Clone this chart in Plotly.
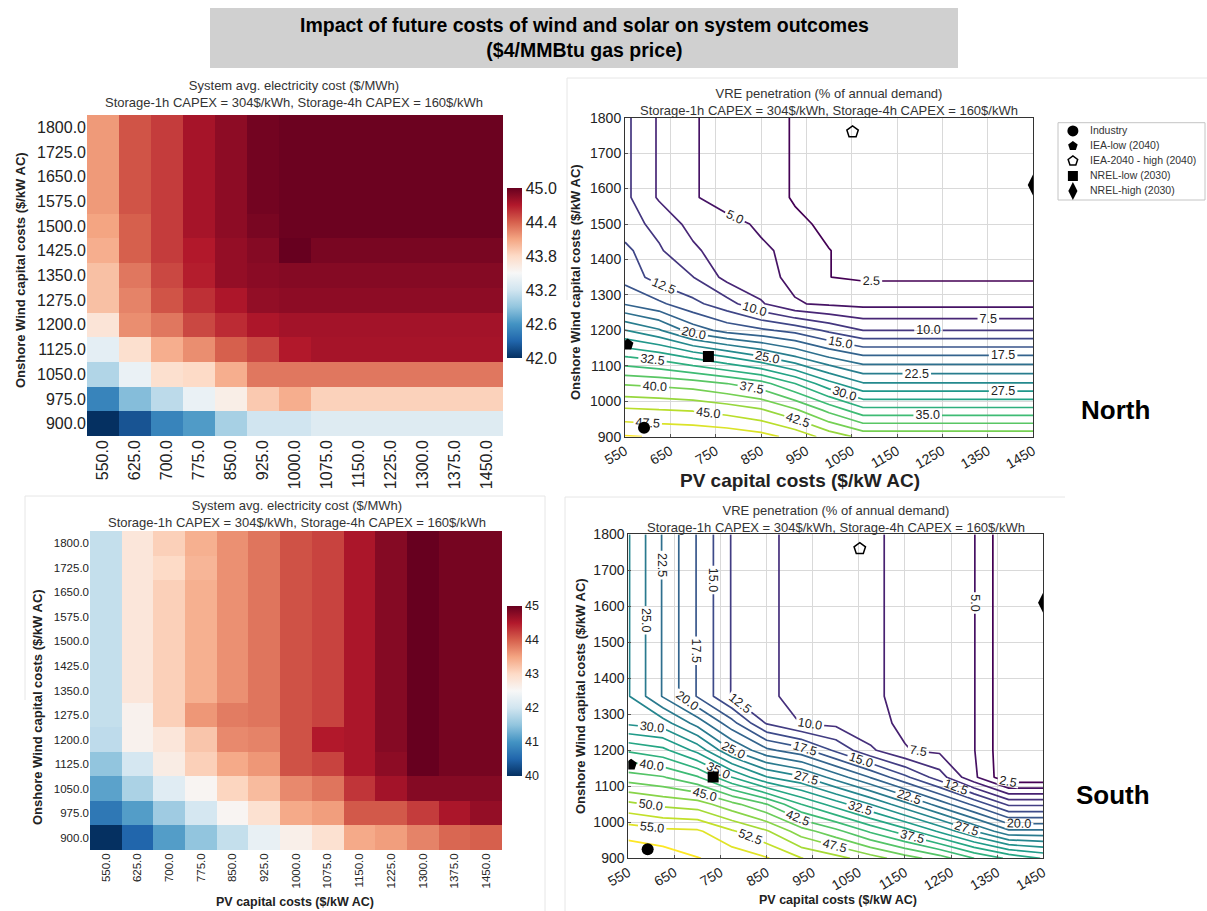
import plotly.graph_objects as go

W, H = 1207, 911
FONT = "Liberation Sans"

# ---------------- data ----------------
pv_costs = [550, 625, 700, 775, 850, 925, 1000, 1075, 1150, 1225, 1300, 1375, 1450]
wind_costs = [900, 975, 1050, 1125, 1200, 1275, 1350, 1425, 1500, 1575, 1650, 1725, 1800]
pv_tick_text = ["550.0", "625.0", "700.0", "775.0", "850.0", "925.0", "1000.0", "1075.0",
                "1150.0", "1225.0", "1300.0", "1375.0", "1450.0"]
wind_tick_text = ["900.0", "975.0", "1050.0", "1125.0", "1200.0", "1275.0", "1350.0",
                  "1425.0", "1500.0", "1575.0", "1650.0", "1725.0", "1800.0"]

# System avg. electricity cost ($/MWh), rows = wind cost 900 -> 1800, cols = PV cost 550 -> 1450
north_cost = [
    [42.0, 42.2, 42.5, 42.65, 43.0, 43.2, 43.2, 43.3, 43.3, 43.3, 43.3, 43.3, 43.3],
    [42.5, 42.85, 43.1, 43.4, 43.6, 43.9, 44.05, 43.85, 43.85, 43.85, 43.85, 43.85, 43.85],
    [43.05, 43.4, 43.75, 43.8, 44.05, 44.3, 44.3, 44.3, 44.3, 44.3, 44.3, 44.3, 44.3],
    [43.35, 43.75, 44.05, 44.2, 44.4, 44.5, 44.7, 44.75, 44.75, 44.75, 44.75, 44.75, 44.75],
    [43.7, 44.2, 44.3, 44.5, 44.62, 44.72, 44.76, 44.76, 44.76, 44.76, 44.76, 44.76, 44.76],
    [43.95, 44.25, 44.45, 44.6, 44.72, 44.83, 44.85, 44.85, 44.85, 44.85, 44.85, 44.85, 44.85],
    [43.95, 44.3, 44.5, 44.68, 44.82, 44.86, 44.88, 44.88, 44.88, 44.88, 44.88, 44.88, 44.88],
    [44.05, 44.4, 44.55, 44.7, 44.82, 44.88, 45.1, 44.93, 44.93, 44.93, 44.93, 44.93, 44.93],
    [44.1, 44.4, 44.55, 44.75, 44.85, 44.93, 44.98, 44.98, 44.98, 44.98, 44.98, 44.98, 44.98],
    [44.15, 44.45, 44.55, 44.75, 44.85, 44.95, 44.98, 44.98, 44.98, 44.98, 44.98, 44.98, 44.98],
    [44.15, 44.45, 44.55, 44.75, 44.85, 44.95, 44.98, 44.98, 44.98, 44.98, 44.98, 44.98, 44.98],
    [44.15, 44.45, 44.55, 44.75, 44.85, 44.95, 44.98, 44.98, 44.98, 44.98, 44.98, 44.98, 44.98],
    [44.15, 44.45, 44.55, 44.75, 44.85, 44.95, 44.98, 44.98, 44.98, 44.98, 44.98, 44.98, 44.98],
]

south_cost = [
    [40.0, 40.5, 41.1, 41.5, 41.9, 42.3, 42.65, 42.9, 43.45, 43.55, 43.75, 43.95, 44.0],
    [40.7, 41.1, 41.6, 42.05, 42.55, 42.9, 43.45, 43.55, 44.05, 44.05, 44.25, 44.55, 44.7],
    [41.15, 41.7, 42.2, 42.55, 43.05, 43.3, 43.7, 43.85, 44.3, 44.6, 44.8, 44.8, 44.8],
    [41.5, 42.05, 42.7, 43.1, 43.45, 43.6, 44.1, 44.2, 44.55, 44.75, 45.0, 44.9, 44.9],
    [41.85, 42.6, 42.8, 43.2, 43.7, 43.75, 44.1, 44.5, 44.55, 44.8, 45.0, 44.9, 44.9],
    [41.9, 42.6, 43.1, 43.6, 43.8, 43.85, 44.1, 44.2, 44.55, 44.8, 45.0, 44.9, 44.9],
    [41.9, 42.8, 43.1, 43.4, 43.65, 43.85, 44.1, 44.2, 44.55, 44.8, 45.0, 44.9, 44.9],
    [41.9, 42.8, 43.1, 43.4, 43.65, 43.85, 44.1, 44.2, 44.55, 44.8, 45.0, 44.9, 44.9],
    [41.9, 42.8, 43.1, 43.4, 43.65, 43.85, 44.1, 44.2, 44.55, 44.8, 45.0, 44.9, 44.9],
    [41.9, 42.8, 43.1, 43.4, 43.65, 43.85, 44.1, 44.2, 44.55, 44.8, 45.0, 44.9, 44.9],
    [41.9, 42.8, 43.1, 43.4, 43.65, 43.85, 44.1, 44.2, 44.55, 44.8, 45.0, 44.9, 44.9],
    [41.9, 42.8, 43.0, 43.35, 43.65, 43.85, 44.1, 44.2, 44.55, 44.8, 45.0, 44.9, 44.9],
    [41.9, 42.8, 43.1, 43.4, 43.65, 43.85, 44.1, 44.2, 44.55, 44.8, 45.0, 44.9, 44.9],
]

# VRE penetration (% of annual demand)
north_vre = [
    [50.2, 49.8, 49.6, 49.2, 48.4, 46.7, 44.0, 41.8, 41.8, 41.8, 41.8, 41.8, 41.8],
    [45.4, 45.1, 44.8, 44.0, 42.8, 40.4, 36.8, 33.3, 33.3, 33.3, 33.3, 33.3, 33.3],
    [39.7, 39.3, 38.7, 37.5, 36.0, 32.5, 28.3, 25.2, 25.2, 25.2, 25.2, 25.2, 25.2],
    [32.6, 31.5, 29.5, 27.5, 25.3, 22.7, 19.9, 18.0, 18.0, 18.0, 18.0, 18.0, 18.0],
    [25.1, 22.8, 18.8, 16.6, 15.5, 14.2, 12.0, 10.0, 10.0, 10.0, 10.0, 10.0, 10.0],
    [17.3, 15.5, 13.2, 11.0, 7.8, 5.2, 4.6, 4.3, 4.3, 4.3, 4.3, 4.3, 4.3],
    [14.05, 11.4, 10.05, 6.7, 5.8, 4.4, 2.52, 2.2, 2.2, 2.2, 2.2, 2.2, 2.2],
    [13.2, 10.3, 8.0, 6.0, 5.3, 4.5, 2.52, 2.2, 2.2, 2.2, 2.2, 2.2, 2.2],
    [11.0, 9.3, 6.6, 5.6, 4.7, 2.7, 2.3, 2.2, 2.2, 2.2, 2.2, 2.2, 2.2],
    [10.6, 7.2, 5.2, 4.1, 3.0, 2.4, 2.2, 2.2, 2.2, 2.2, 2.2, 2.2, 2.2],
    [10.6, 7.2, 5.2, 4.1, 3.0, 2.4, 2.2, 2.2, 2.2, 2.2, 2.2, 2.2, 2.2],
    [10.6, 7.2, 5.2, 4.1, 3.0, 2.4, 2.2, 2.2, 2.2, 2.2, 2.2, 2.2, 2.2],
    [10.6, 7.2, 5.2, 4.1, 3.0, 2.4, 2.2, 2.2, 2.2, 2.2, 2.2, 2.2, 2.2],
]

south_vre = [
    [59.5, 59.0, 57.6, 56.6, 55.2, 52.6, 50.9, 48.7, 46.2, 43.8, 40.0, 37.0, 34.8],
    [56.5, 55.6, 55.4, 52.8, 50.3, 46.2, 43.3, 39.6, 36.2, 32.1, 27.6, 23.1, 23.1],
    [50.6, 49.4, 48.7, 45.8, 42.6, 37.5, 33.8, 30.0, 25.8, 21.4, 16.9, 12.0, 12.0],
    [43.7, 42.7, 40.3, 35.0, 30.2, 27.9, 23.9, 19.9, 15.6, 11.2, 5.5, 0.3, 0.3],
    [37.1, 35.7, 31.7, 25.0, 20.6, 18.5, 14.5, 10.5, 7.6, 7.0, 5.1, 0.3, 0.2],
    [29.6, 28.7, 24.0, 18.4, 12.3, 9.9, 9.4, 8.0, 7.2, 6.5, 5.1, 0.3, 0.2],
    [27.7, 22.3, 17.3, 12.3, 10.5, 9.1, 8.2, 7.7, 7.2, 6.5, 5.1, 0.3, 0.2],
    [27.7, 22.3, 17.3, 12.3, 10.5, 9.1, 8.2, 7.7, 7.2, 6.5, 5.1, 0.3, 0.2],
    [27.7, 22.3, 17.3, 12.3, 10.5, 9.1, 8.2, 7.7, 7.2, 6.5, 5.1, 0.3, 0.2],
    [27.7, 22.3, 17.3, 12.3, 10.5, 9.1, 8.2, 7.7, 7.2, 6.5, 5.1, 0.3, 0.2],
    [27.7, 22.3, 17.3, 12.3, 10.5, 9.1, 8.2, 7.7, 7.2, 6.5, 5.1, 0.3, 0.2],
    [27.7, 22.3, 17.3, 12.3, 10.5, 9.1, 8.2, 7.7, 7.2, 6.5, 5.1, 0.3, 0.2],
    [27.7, 22.3, 17.3, 12.3, 10.5, 9.1, 8.2, 7.7, 7.2, 6.5, 5.1, 0.3, 0.2],
]

# cost scenario markers (PV cost, wind cost)
scenario_names = ["Industry", "IEA-low (2040)", "IEA-2040 - high (2040)", "NREL-low (2030)", "NREL-high (2030)"]
scenario_pv = [592, 556, 1052, 734, 1450]
scenario_wind = [925, 1160, 1760, 1126, 1610]

contour_xticks = [550, 650, 750, 850, 950, 1050, 1150, 1250, 1350, 1450]
contour_yticks = [900, 1000, 1100, 1200, 1300, 1400, 1500, 1600, 1700, 1800]

# ---------------- styling helpers ----------------
RDBU_R = [[0.0, "#053061"], [0.1, "#2166ac"], [0.2, "#4393c3"], [0.3, "#92c5de"],
          [0.4, "#d1e5f0"], [0.5, "#f7f7f7"], [0.6, "#fddbc7"], [0.7, "#f4a582"],
          [0.8, "#d6604d"], [0.9, "#b2182b"], [1.0, "#67001f"]]


def px_x(p):
    return p / W


def px_y(p):
    return 1 - p / H


fig = go.Figure()

# ---- heatmaps ----
fig.add_trace(go.Heatmap(
    x=pv_costs, y=wind_costs, z=north_cost, colorscale=RDBU_R, zmin=42, zmax=45,
    xaxis="x", yaxis="y", hoverinfo="skip",
    colorbar=dict(x=px_x(507), xanchor="left", xpad=0, y=px_y(273), yanchor="middle",
                  len=170 / H, ypad=0, thickness=15, outlinewidth=0, ticks="",
                  tickvals=[42.0, 42.6, 43.2, 43.8, 44.4, 45.0],
                  ticktext=["42.0", "42.6", "43.2", "43.8", "44.4", "45.0"],
                  tickfont=dict(size=16, family=FONT, color="#222")),
))
fig.add_trace(go.Heatmap(
    x=pv_costs, y=wind_costs, z=south_cost, colorscale=RDBU_R, zmin=40, zmax=45,
    xaxis="x3", yaxis="y3", hoverinfo="skip",
    colorbar=dict(x=px_x(507), xanchor="left", xpad=0, y=px_y(691), yanchor="middle",
                  len=170 / H, ypad=0, thickness=15, outlinewidth=0, ticks="",
                  tickvals=[40, 41, 42, 43, 44, 45],
                  tickfont=dict(size=12.5, family=FONT, color="#222")),
))

# ---- contours ----
for z, ax, ay, zmax in [(north_vre, "x2", "y2", 50), (south_vre, "x4", "y4", 57.5)]:
    fig.add_trace(go.Contour(
        x=pv_costs, y=wind_costs, z=z, xaxis=ax, yaxis=ay,
        colorscale="Viridis", zmin=2.5, zmax=zmax, showscale=False, hoverinfo="skip",
        contours=dict(start=2.5, end=zmax, size=2.5, coloring="lines", showlabels=True,
                      labelformat=".1f", labelfont=dict(size=12.5, color="#222", family=FONT)),
        line=dict(width=1.7, smoothing=0),
    ))

# ---- scenario markers ----
marker_styles = [
    dict(symbol="circle", size=12, color="black"),
    dict(symbol="pentagon", size=12, color="black"),
    dict(symbol="pentagon-open", size=12, color="black", line=dict(width=1.5, color="black")),
    dict(symbol="square", size=11, color="black"),
    dict(symbol="diamond-tall", size=15, color="black"),
]
for ax, ay in [("x2", "y2"), ("x4", "y4")]:
    for i, name in enumerate(scenario_names):
        fig.add_trace(go.Scatter(
            x=[scenario_pv[i]], y=[scenario_wind[i]], mode="markers", name=name,
            marker=marker_styles[i], xaxis=ax, yaxis=ay, showlegend=False, hoverinfo="skip",
        ))

# ---- compact legend (drawn on a hidden axis, one row per scenario) ----
legend_rows = list(range(len(scenario_names)))
legend_marker_sizes = [11, 10, 10, 10, 13]
for i, name in enumerate(scenario_names):
    st = dict(marker_styles[i])
    st["size"] = legend_marker_sizes[i]
    fig.add_trace(go.Scatter(x=[1.0], y=[legend_rows[i]], mode="markers", marker=st,
                             xaxis="x5", yaxis="y5", showlegend=False, hoverinfo="skip", cliponaxis=False))
fig.add_trace(go.Scatter(x=[2.15] * len(scenario_names), y=legend_rows, mode="text", text=scenario_names,
                         textposition="middle right", textfont=dict(size=10.5, family=FONT, color="#333"),
                         xaxis="x5", yaxis="y5", showlegend=False, hoverinfo="skip", cliponaxis=False))

# ---- axes ----
tickfont_hm1 = dict(size=16, family=FONT, color="#222")
tickfont_hm2 = dict(size=11.5, family=FONT, color="#222")
tickfont_ct = dict(size=14, family=FONT, color="#222")

heat_x_common = dict(range=[512.5, 1487.5], tickmode="array", tickvals=pv_costs, ticktext=pv_tick_text,
                     tickangle=-90, showgrid=False, zeroline=False, showline=False, ticks="",
                     automargin=False)
heat_y_common = dict(range=[862.5, 1837.5], tickmode="array", tickvals=wind_costs, ticktext=wind_tick_text,
                     showgrid=False, zeroline=False, showline=False, ticks="", automargin=False)
cont_x_common = dict(range=[550, 1450], tickmode="array", tickvals=contour_xticks, tickangle=-30,
                     showgrid=True, gridcolor="#d9d9d9", gridwidth=1, zeroline=False, showline=True,
                     linecolor="#333", linewidth=1, mirror=True, ticks="inside", ticklen=3,
                     tickcolor="#555", tickfont=tickfont_ct, automargin=False)
cont_y_common = dict(range=[900, 1800], tickmode="array", tickvals=contour_yticks,
                     showgrid=True, gridcolor="#d9d9d9", gridwidth=1, zeroline=False, showline=True,
                     linecolor="#333", linewidth=1, mirror=True, ticks="inside", ticklen=3,
                     tickcolor="#555", tickfont=tickfont_ct, automargin=False)

fig.update_layout(
    xaxis=dict(domain=[px_x(87), px_x(503)], anchor="y", tickfont=tickfont_hm1, **heat_x_common),
    yaxis=dict(domain=[px_y(436), px_y(115)], anchor="x", tickfont=tickfont_hm1, **heat_y_common),
    xaxis3=dict(domain=[px_x(90), px_x(502)], anchor="y3", tickfont=tickfont_hm2, **heat_x_common),
    yaxis3=dict(domain=[px_y(850), px_y(531)], anchor="x3", tickfont=tickfont_hm2, **heat_y_common),
    xaxis2=dict(domain=[px_x(625), px_x(1033)], anchor="y2", **cont_x_common),
    yaxis2=dict(domain=[px_y(436.7), px_y(117.7)], anchor="x2", **cont_y_common),
    xaxis4=dict(domain=[px_x(628.3), px_x(1043.3)], anchor="y4", **cont_x_common),
    yaxis4=dict(domain=[px_y(858.3), px_y(534.3)], anchor="x4", **cont_y_common),
    xaxis5=dict(domain=[px_x(1058), px_x(1207)], anchor="y5", range=[0, 10], visible=False,
                fixedrange=True, automargin=False),
    yaxis5=dict(domain=[px_y(200), px_y(122.7)], anchor="x5", range=[4.6, -0.55], visible=False,
                fixedrange=True, automargin=False),
)

# ---- layout, shapes ----
fig.update_layout(
    width=W, height=H, margin=dict(l=0, r=0, t=0, b=0, pad=0, autoexpand=False),
    paper_bgcolor="white", plot_bgcolor="white",
    font=dict(family=FONT, color="#222"),
    showlegend=False,
)

shapes = [
    dict(type="rect", xref="paper", yref="paper", x0=px_x(210), x1=px_x(958), y0=px_y(68), y1=px_y(8),
         fillcolor="#d0d0d0", line=dict(width=0), layer="below"),
    # legend box
    dict(type="rect", xref="paper", yref="paper", x0=px_x(1058), x1=px_x(1205), y0=px_y(200), y1=px_y(122.7),
         fillcolor="white", line=dict(color="#c4c4c4", width=1), layer="below"),
    # faint panel frames of the original composite image
    dict(type="line", xref="paper", yref="paper", x0=px_x(567), x1=px_x(1207), y0=px_y(78), y1=px_y(78),
         line=dict(color="#e6e6e6", width=1)),
    dict(type="line", xref="paper", yref="paper", x0=px_x(567), x1=px_x(567), y0=px_y(78), y1=px_y(300),
         line=dict(color="#e6e6e6", width=1)),
    dict(type="line", xref="paper", yref="paper", x0=px_x(25), x1=px_x(545), y0=px_y(496), y1=px_y(496),
         line=dict(color="#e6e6e6", width=1)),
    dict(type="line", xref="paper", yref="paper", x0=px_x(25), x1=px_x(25), y0=px_y(496), y1=px_y(700),
         line=dict(color="#e6e6e6", width=1)),
    dict(type="line", xref="paper", yref="paper", x0=px_x(545), x1=px_x(545), y0=px_y(496), y1=px_y(911),
         line=dict(color="#e6e6e6", width=1)),
    dict(type="line", xref="paper", yref="paper", x0=px_x(565), x1=px_x(1065), y0=px_y(497), y1=px_y(497),
         line=dict(color="#e6e6e6", width=1)),
    dict(type="line", xref="paper", yref="paper", x0=px_x(565), x1=px_x(565), y0=px_y(497), y1=px_y(911),
         line=dict(color="#e6e6e6", width=1)),
]
fig.update_layout(shapes=shapes)

sub1 = "Storage-1h CAPEX = 304$/kWh, Storage-4h CAPEX = 160$/kWh"
ann = [
    dict(x=px_x(584), y=px_y(38), text="<b>Impact of future costs of wind and solar on system outcomes<br>($4/MMBtu gas price)</b>",
         font=dict(size=19.5, family=FONT, color="black")),
    dict(x=px_x(294), y=px_y(94), text="System avg. electricity cost ($/MWh)<br>" + sub1,
         font=dict(size=13, family=FONT, color="#333")),
    dict(x=px_x(297), y=px_y(514), text="System avg. electricity cost ($/MWh)<br>" + sub1,
         font=dict(size=13, family=FONT, color="#333")),
    dict(x=px_x(829), y=px_y(102), text="VRE penetration (% of annual demand)<br>" + sub1,
         font=dict(size=13, family=FONT, color="#333")),
    dict(x=px_x(836), y=px_y(519), text="VRE penetration (% of annual demand)<br>" + sub1,
         font=dict(size=13, family=FONT, color="#333")),
    dict(x=px_x(20), y=px_y(270), text="<b>Onshore Wind capital costs ($/kW AC)</b>", textangle=-90,
         font=dict(size=13, family=FONT, color="#222")),
    dict(x=px_x(576), y=px_y(282), text="<b>Onshore Wind capital costs ($/kW AC)</b>", textangle=-90,
         font=dict(size=13, family=FONT, color="#222")),
    dict(x=px_x(37), y=px_y(707), text="<b>Onshore Wind capital costs ($/kW AC)</b>", textangle=-90,
         font=dict(size=13, family=FONT, color="#222")),
    dict(x=px_x(580), y=px_y(696), text="<b>Onshore Wind capital costs ($/kW AC)</b>", textangle=-90,
         font=dict(size=13, family=FONT, color="#222")),
    dict(x=px_x(800), y=px_y(481), text="<b>PV capital costs ($/kW AC)</b>",
         font=dict(size=19, family=FONT, color="#222")),
    dict(x=px_x(295), y=px_y(902), text="<b>PV capital costs ($/kW AC)</b>",
         font=dict(size=12.5, family=FONT, color="#222")),
    dict(x=px_x(838), y=px_y(900), text="<b>PV capital costs ($/kW AC)</b>",
         font=dict(size=12.5, family=FONT, color="#222")),
    dict(x=px_x(1115), y=px_y(410), text="<b>North</b>", font=dict(size=26, family=FONT, color="black")),
    dict(x=px_x(1113), y=px_y(795), text="<b>South</b>", font=dict(size=26, family=FONT, color="black")),
]
for a in ann:
    a.update(xref="paper", yref="paper", showarrow=False, xanchor="center", yanchor="middle")
fig.update_layout(annotations=ann)

fig.write_html("out.html")
